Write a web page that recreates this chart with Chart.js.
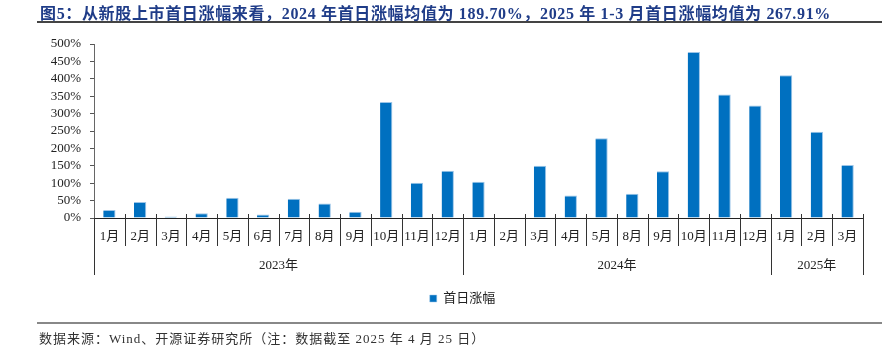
<!DOCTYPE html>
<html>
<head>
<meta charset="utf-8">
<script src="https://cdn.jsdelivr.net/npm/chart.js@4/dist/chart.umd.min.js"></script>
<style>
    body { margin: 0; background: #fff; }
    #wrap { position: relative; width: 887px; height: 360px; overflow: hidden; }
    #title {
        position: absolute; left: 40px; top: 0px; white-space: nowrap; letter-spacing: 0.65px;
        font: bold 16px "Liberation Serif", "Noto Sans CJK SC", serif; color: #1f3c88;
    }
    #titleLine { position: absolute; left: 37px; top: 21px; width: 845px; height: 0; border-top: 2px solid #444; }
    #srcLine { position: absolute; left: 37px; top: 322px; width: 845px; height: 0; border-top: 2px solid #888; }
    #source {
        position: absolute; left: 39px; top: 328px; white-space: nowrap; letter-spacing: 1px;
        font: 13px "Liberation Serif", "Noto Sans CJK SC", serif; color: #333;
    }
    #chartBox { position: absolute; left: 0; top: 0; width: 887px; height: 360px; }
</style>
</head>
<body>
<div id="wrap">
    <div id="chartBox"><canvas id="ipoChart"></canvas></div>
    <div id="title">图5：从新股上市首日涨幅来看，2024 年首日涨幅均值为 189.70%，2025 年 1-3 月首日涨幅均值为 267.91%</div>
    <div id="titleLine"></div>
    <div id="srcLine"></div>
    <div id="source">数据来源：Wind、开源证券研究所（注：数据截至 2025 年 4 月 25 日）</div>
</div>
<script>
    // month labels on the axis
    const months = ['1月', '2月', '3月', '4月', '5月', '6月', '7月', '8月', '9月', '10月', '11月', '12月',
                    '1月', '2月', '3月', '4月', '5月', '8月', '9月', '10月', '11月', '12月',
                    '1月', '2月', '3月'];
    // year groups under the months
    const years = ['2023年', '2024年', '2025年'];
    const yearSpans = [12, 10, 3];
    // 首日涨幅 (%)
    const firstDayGain = [23, 46, 4, 14, 58, 10, 55, 42, 18, 333, 101, 136,
                          104, 0, 150, 65, 229, 70, 134, 477, 355, 323,
                          410, 248, 152];
    const yTicks = [0, 50, 100, 150, 200, 250, 300, 350, 400, 450, 500];

    const serif = '"Liberation Serif", "Noto Sans CJK SC", serif';

    // separators and year row under the category axis
    const groupAxisPlugin = {
        id: 'groupAxis',
        afterLayout(chart) {
            // legend sits a bit right of the canvas centre
            chart.legend.left += 31;
            chart.legend.right += 31;
        },
        afterDraw(chart) {
            const ctx = chart.ctx;
            const x = chart.scales.x;
            const top = chart.chartArea.bottom;
            const n = months.length;
            const edge = i => {
                if (i === 0) return x.left;
                if (i === n) return x.right;
                return (x.getPixelForValue(i - 1) + x.getPixelForValue(i)) / 2;
            };
            const yearEdges = [0];
            yearSpans.forEach((s, k) => yearEdges.push(yearEdges[k] + s));

            ctx.save();
            ctx.strokeStyle = '#333';
            ctx.lineWidth = 1;
            for (let i = 0; i <= n; i++) {
                const px = Math.round(edge(i)) + 0.5;
                const isYear = yearEdges.includes(i);
                ctx.beginPath();
                ctx.moveTo(px, isYear && i === 0 ? top : top - 4);
                ctx.lineTo(px, isYear ? top + 57 : top + 28);
                ctx.stroke();
            }
            ctx.fillStyle = '#222';
            ctx.font = '13px ' + serif;
            ctx.textAlign = 'center';
            ctx.textBaseline = 'middle';
            years.forEach((label, k) => {
                const cx = (edge(yearEdges[k]) + edge(yearEdges[k + 1])) / 2;
                ctx.fillText(label, cx, top + 48);
            });
            ctx.restore();
        }
    };

    const ctx = document.getElementById('ipoChart').getContext('2d');
    new Chart(ctx, {
        type: 'bar',
        data: {
            labels: months,
            datasets: [{
                label: '首日涨幅',
                data: firstDayGain,
                backgroundColor: '#0070c0',
                borderColor: '#9cc5e8',
                borderWidth: { top: 1, right: 1, left: 0, bottom: 0 },
                borderSkipped: false,
                barPercentage: 0.4,
                categoryPercentage: 1
            }]
        },
        options: {
            responsive: true,
            maintainAspectRatio: false,
            animation: false,
            layout: { padding: { top: 44, right: 24, bottom: 45, left: 0 } },
            plugins: {
                tooltip: { enabled: false },
                legend: {
                    position: 'bottom',
                    labels: {
                        boxWidth: 7,
                        boxHeight: 7,
                        padding: 8,
                        color: '#222',
                        font: { size: 13, family: serif }
                    }
                }
            },
            scales: {
                x: {
                    grid: { display: false, drawTicks: false },
                    border: { display: true, color: '#222', width: 1 },
                    ticks: {
                        color: '#222',
                        font: { size: 13, family: serif },
                        padding: 11,
                        maxRotation: 0,
                        autoSkip: false
                    },
                    afterFit: s => { s.height = 66; }
                },
                y: {
                    min: 0,
                    max: 500,
                    afterBuildTicks: s => { s.ticks = yTicks.map(v => ({ value: v })); },
                    grid: { drawOnChartArea: false, tickLength: 4, color: '#555' },
                    border: { display: true, color: '#666', width: 1 },
                    ticks: {
                        color: '#222',
                        padding: 9,
                        autoSkip: false,
                        font: { size: 13, family: serif },
                        callback: v => v + '%'
                    },
                    afterFit: s => { s.width = 94; }
                }
            }
        },
        plugins: [groupAxisPlugin]
    });
</script>
</body>
</html>
